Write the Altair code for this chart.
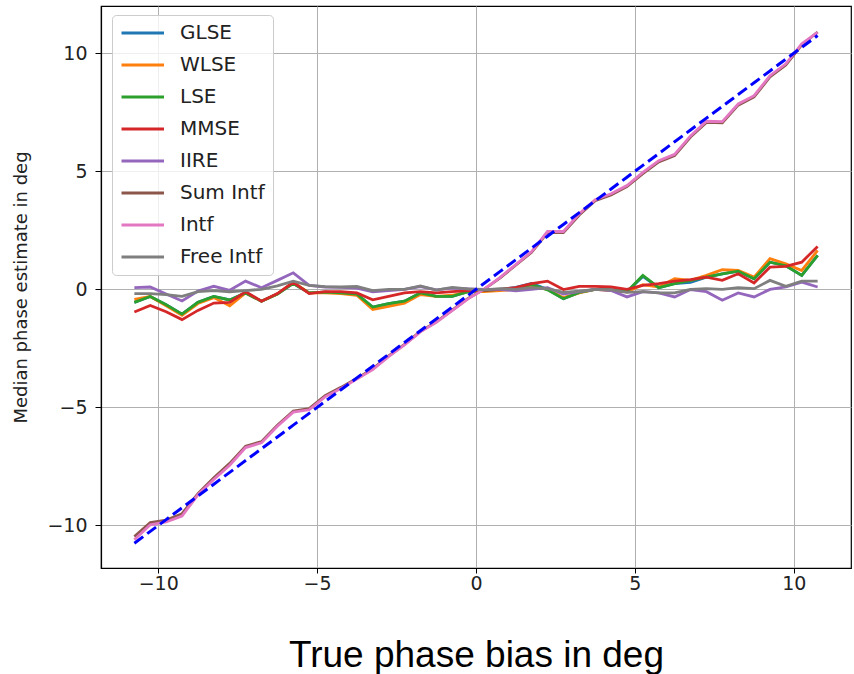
import altair as alt
import pandas as pd

x = [-10.75 + 0.5 * i for i in range(44)]

glse = [-0.55, -0.3, -0.65, -1.05, -0.55, -0.3, -0.45, -0.15, -0.5, -0.2, 0.25,
        -0.15, -0.12, -0.15, -0.2, -0.75, -0.6, -0.5, -0.15, -0.3, -0.3, -0.1, -0.05,
        0.0, 0.08, 0.25, 0.0, -0.4, -0.13, 0.0, -0.02, -0.1, 0.55, 0.07, 0.24,
        0.3, 0.52, 0.66, 0.77, 0.45, 1.15, 1.0, 0.59, 1.44]
wlse = [-0.42, -0.3, -0.7, -1.1, -0.6, -0.35, -0.7, -0.15, -0.5, -0.2, 0.3,
        -0.15, -0.15, -0.18, -0.25, -0.85, -0.72, -0.58, -0.22, -0.3, -0.25, -0.1, -0.1,
        -0.05, 0.0, 0.15, 0.0, -0.35, -0.15, 0.0, -0.05, -0.1, 0.2, 0.1, 0.45,
        0.38, 0.59, 0.83, 0.8, 0.52, 1.3, 1.08, 0.8, 1.65]
lse = [-0.55, -0.3, -0.65, -1.05, -0.55, -0.3, -0.45, -0.15, -0.5, -0.2, 0.25,
       -0.15, -0.12, -0.15, -0.2, -0.75, -0.6, -0.5, -0.15, -0.3, -0.3, -0.1, -0.05,
       0.0, 0.05, 0.2, -0.02, -0.4, -0.13, 0.0, -0.02, -0.1, 0.59, 0.07, 0.24,
       0.38, 0.52, 0.66, 0.77, 0.45, 1.15, 1.0, 0.59, 1.44]
mmse = [-0.96, -0.68, -0.95, -1.28, -0.89, -0.58, -0.55, -0.1, -0.5, -0.18, 0.3,
        -0.18, -0.1, -0.1, -0.15, -0.44, -0.3, -0.15, -0.1, -0.15, -0.1, -0.05, -0.04,
        0.0, 0.07, 0.24, 0.35, -0.01, 0.13, 0.13, 0.1, 0.0, 0.17, 0.24, 0.35,
        0.41, 0.52, 0.38, 0.66, 0.27, 0.94, 0.97, 1.15, 1.82]
iire = [0.07, 0.1, -0.2, -0.49, -0.07, 0.13, -0.04, 0.35, 0.07, 0.38, 0.7,
        0.17, 0.1, 0.08, 0.05, -0.1, -0.05, 0.0, 0.12, -0.02, 0.05, 0.02, 0.0,
        0.0, -0.06, 0.0, 0.07, -0.2, -0.1, 0.0, -0.05, -0.32, -0.1, -0.15, -0.32,
        -0.01, -0.1, -0.46, -0.15, -0.32, 0.0, 0.1, 0.31, 0.1]
sum_intf = [-10.47, -9.88, -9.77, -9.5, -8.65, -7.98, -7.37, -6.64, -6.45, -5.75, -5.15,
            -5.05, -4.5, -4.15, -3.77, -3.37, -2.82, -2.33, -1.78, -1.38, -0.88, -0.38, 0.0,
            0.48, 1.02, 1.57, 2.4, 2.4, 3.15, 3.75, 4.0, 4.35, 4.9, 5.4, 5.67,
            6.45, 7.07, 7.05, 7.8, 8.15, 9.0, 9.5, 10.35, 10.9]
intf = [-10.6, -9.97, -9.85, -9.6, -8.7, -8.05, -7.45, -6.7, -6.5, -5.8, -5.2,
        -5.1, -4.55, -4.2, -3.8, -3.4, -2.85, -2.35, -1.8, -1.4, -0.9, -0.4, 0.0,
        0.5, 1.05, 1.6, 2.45, 2.45, 3.2, 3.8, 4.05, 4.4, 4.95, 5.45, 5.72,
        6.5, 7.12, 7.1, 7.85, 8.2, 9.05, 9.55, 10.4, 10.88]
free_intf = [-0.18, -0.18, -0.22, -0.3, -0.1, -0.05, -0.1, -0.05, 0.0, 0.15, 0.35,
             0.17, 0.12, 0.1, 0.12, -0.05, 0.0, 0.0, 0.15, -0.03, 0.08, 0.02, -0.02,
             0.03, 0.0, 0.07, 0.03, -0.13, -0.08, 0.0, -0.02, -0.13, -0.1, -0.15, -0.15,
             0.0, 0.03, 0.0, 0.07, 0.03, 0.38, 0.13, 0.35, 0.35]

names = ["GLSE", "WLSE", "LSE", "MMSE", "IIRE", "Sum Intf", "Intf", "Free Intf"]
series = [glse, wlse, lse, mmse, iire, sum_intf, intf, free_intf]
colors = ["#1f77b4", "#ff7f0e", "#2ca02c", "#d62728", "#9467bd", "#8c564b", "#e377c2", "#7f7f7f"]

rows = []
for k, (n, s) in enumerate(zip(names, series)):
    for xi, yi in zip(x, s):
        rows.append({"x": xi, "y": yi, "series": n, "order": k})
df = pd.DataFrame(rows)
ref = pd.DataFrame({"x": x, "y": x})

xs = alt.Scale(domain=[-11.8, 11.8], nice=False, zero=False)
ys = alt.Scale(domain=[-11.8, 12.0], nice=False, zero=False)

lines = alt.Chart(df).mark_line(strokeWidth=2.8).encode(
    x=alt.X("x:Q", scale=xs, title="True phase bias in deg",
            axis=alt.Axis(values=[-10, -5, 0, 5, 10], format="d")),
    y=alt.Y("y:Q", scale=ys, title="Median phase estimate in deg",
            axis=alt.Axis(values=[-10, -5, 0, 5, 10], format="d")),
    color=alt.Color("series:N", sort=names,
                    scale=alt.Scale(domain=names, range=colors),
                    legend=alt.Legend(title=None, orient="none", legendX=11, legendY=9,
                                      symbolType="M-1,0H4", symbolSize=289,
                                      symbolStrokeWidth=2.8, labelOffset=40,
                                      labelFontSize=20, labelFont="DejaVu Sans",
                                      labelColor="#222222", rowPadding=12, padding=8,
                                      fillColor="rgba(255,255,255,0.8)",
                                      strokeColor="#cccccc", cornerRadius=4)),
    detail="order:O",
)

dashed = alt.Chart(ref).mark_line(color="#0000ff", strokeWidth=3, strokeDash=[11, 5]).encode(
    x=alt.X("x:Q", scale=xs), y=alt.Y("y:Q", scale=ys)
)

chart = alt.layer(lines, dashed).properties(
    width=750, height=562,
    autosize=alt.AutoSizeParams(type="none"),
    padding={"left": 101, "top": 6, "right": 3, "bottom": 106},
).configure_view(stroke="#000000", strokeWidth=1.2).configure_axis(
    grid=True, gridColor="#b0b0b0", gridWidth=1, domainColor="#000000", domainWidth=1.2,
    tickColor="#000000", labelFont="DejaVu Sans", labelFontSize=19,
    labelColor="#222222",
).configure_axisY(
    tickSize=6, labelPadding=8,
    titleFont="DejaVu Sans", titleFontSize=18, titleFontWeight="normal", titleColor="#222222",
    titlePadding=16,
).configure_axisX(
    tickSize=5, labelPadding=1,
    titleFont="Liberation Sans", titleFontSize=37, titleFontWeight="normal", titleColor="#000000",
    titlePadding=44,
)

chart.save("out.html", embed_options={"renderer": "svg", "actions": False})
